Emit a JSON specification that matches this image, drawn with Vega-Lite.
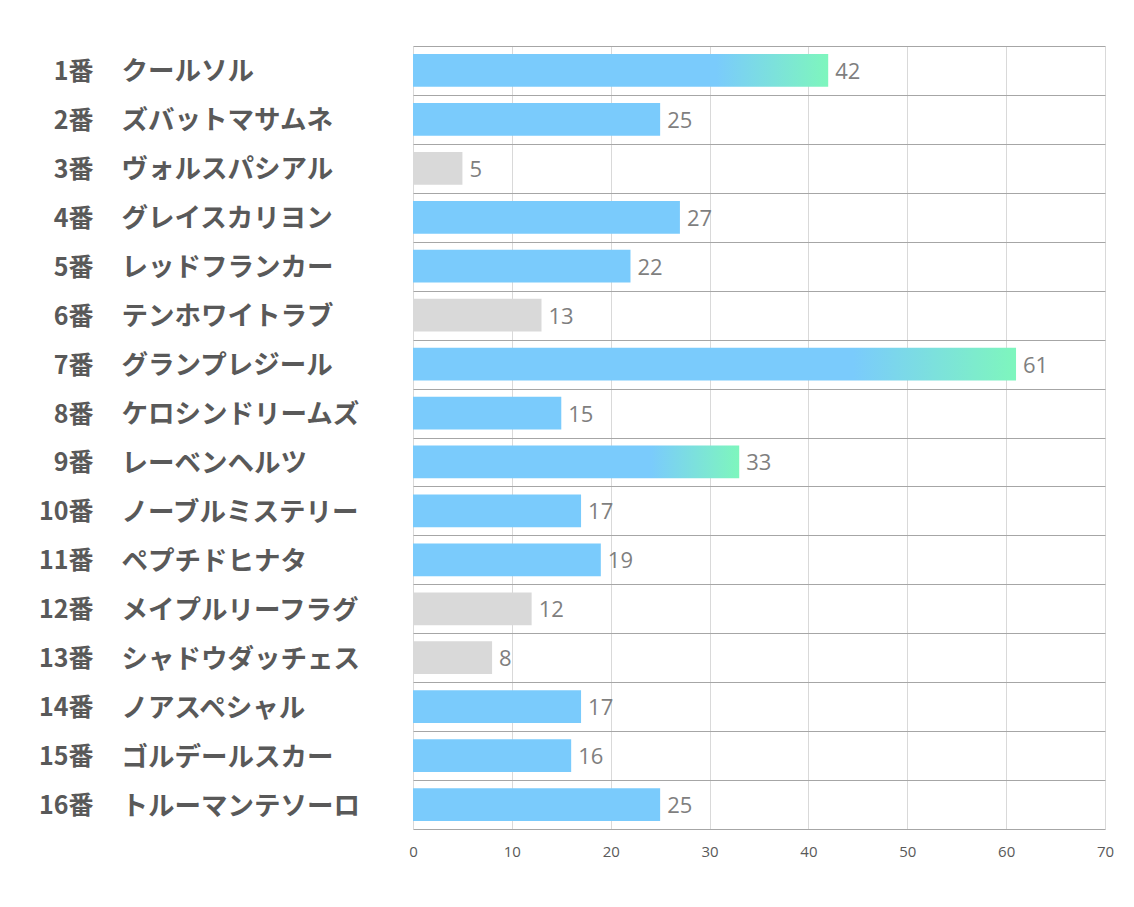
{
  "$schema": "https://vega.github.io/schema/vega-lite/v6.json",
  "autosize": {"type": "none"},
  "padding": {"left": 413, "top": 46, "right": 29, "bottom": 78},
  "width": 692,
  "height": 783,
  "background": "white",
  "config": {"view": {"stroke": null}},
  "data": {
    "values": [
      {"horse": "1番　クールソル", "value": 42, "group": "grad"},
      {"horse": "2番　ズバットマサムネ", "value": 25, "group": "blue"},
      {"horse": "3番　ヴォルスパシアル", "value": 5, "group": "gray"},
      {"horse": "4番　グレイスカリヨン", "value": 27, "group": "blue"},
      {"horse": "5番　レッドフランカー", "value": 22, "group": "blue"},
      {"horse": "6番　テンホワイトラブ", "value": 13, "group": "gray"},
      {"horse": "7番　グランプレジール", "value": 61, "group": "grad"},
      {"horse": "8番　ケロシンドリームズ", "value": 15, "group": "blue"},
      {"horse": "9番　レーベンヘルツ", "value": 33, "group": "grad"},
      {"horse": "10番　ノーブルミステリー", "value": 17, "group": "blue"},
      {"horse": "11番　ペプチドヒナタ", "value": 19, "group": "blue"},
      {"horse": "12番　メイプルリーフラグ", "value": 12, "group": "gray"},
      {"horse": "13番　シャドウダッチェス", "value": 8, "group": "gray"},
      {"horse": "14番　ノアスペシャル", "value": 17, "group": "blue"},
      {"horse": "15番　ゴルデールスカー", "value": 16, "group": "blue"},
      {"horse": "16番　トルーマンテソーロ", "value": 25, "group": "blue"}
    ]
  },
  "encoding": {
    "y": {
      "field": "horse",
      "type": "nominal",
      "sort": null,
      "scale": {
        "domain": [
          "1番　クールソル", "2番　ズバットマサムネ", "3番　ヴォルスパシアル", "4番　グレイスカリヨン",
          "5番　レッドフランカー", "6番　テンホワイトラブ", "7番　グランプレジール", "8番　ケロシンドリームズ",
          "9番　レーベンヘルツ", "10番　ノーブルミステリー", "11番　ペプチドヒナタ", "12番　メイプルリーフラグ",
          "13番　シャドウダッチェス", "14番　ノアスペシャル", "15番　ゴルデールスカー", "16番　トルーマンテソーロ"
        ],
        "paddingInner": 0,
        "paddingOuter": 0
      }
    },
    "x": {
      "field": "value",
      "type": "quantitative",
      "scale": {"domain": [0, 70], "nice": false},
      "axis": {
        "title": null,
        "values": [0, 10, 20, 30, 40, 50, 60, 70],
        "grid": true,
        "gridColor": "#d9d9d9",
        "gridWidth": 1,
        "domain": false,
        "ticks": false,
        "labelFlush": false,
        "labelFont": "Open Sans",
        "labelFontSize": 15,
        "labelColor": "#595959",
        "labelPadding": 15
      }
    }
  },
  "layer": [
    {
      "transform": [{"filter": "datum.group !== 'grad'"}],
      "mark": {"type": "bar", "height": {"band": 0.67}},
      "encoding": {
        "color": {
          "field": "group",
          "type": "nominal",
          "scale": {"domain": ["blue", "gray"], "range": ["#7ACBFC", "#D9D9D9"]},
          "legend": null
        },
        "y": {
          "field": "horse",
          "type": "nominal",
          "sort": null,
          "axis": {
            "orient": "left",
            "title": null,
            "labelExpr": "split(datum.label, '　')[1]",
            "labelAlign": "left",
            "labelPadding": 292,
            "labelOffset": 1.5,
            "labelFont": "Noto Sans CJK JP",
            "labelFontWeight": "bold",
            "labelFontSize": 26.5,
            "labelColor": "#595959",
            "labelLimit": 400,
            "ticks": false,
            "domain": false,
            "grid": true,
            "tickBand": "extent",
            "gridColor": "#a6a6a6",
            "gridWidth": 1
          }
        }
      }
    },
    {
      "transform": [{"filter": "datum.group === 'grad'"}],
      "mark": {
        "type": "bar",
        "height": {"band": 0.67},
        "color": {
          "gradient": "linear",
          "x1": 0, "y1": 0, "x2": 1, "y2": 0,
          "stops": [
            {"offset": 0, "color": "#7ACBFC"},
            {"offset": 0.73, "color": "#7ACBFC"},
            {"offset": 1, "color": "#7EF6BD"}
          ]
        }
      },
      "encoding": {
        "y": {"field": "horse", "type": "nominal", "sort": null, "axis": null}
      }
    },
    {
      "mark": {
        "type": "text",
        "align": "left",
        "baseline": "middle",
        "dx": 7,
        "dy": 1.5,
        "font": "Open Sans",
        "fontSize": 22,
        "color": "#7f7f7f"
      },
      "encoding": {
        "text": {"field": "value", "type": "quantitative"},
        "y": {
          "field": "horse",
          "type": "nominal",
          "sort": null,
          "axis": {
            "orient": "left",
            "title": null,
            "labelExpr": "split(datum.label, '　')[0]",
            "labelAlign": "right",
            "labelPadding": 320,
            "labelOffset": 1.5,
            "labelFont": "Noto Sans CJK JP",
            "labelFontWeight": "bold",
            "labelFontSize": 25,
            "labelColor": "#595959",
            "ticks": false,
            "domain": false,
            "grid": false
          }
        }
      }
    }
  ],
  "resolve": {"axis": {"y": "independent"}}
}
